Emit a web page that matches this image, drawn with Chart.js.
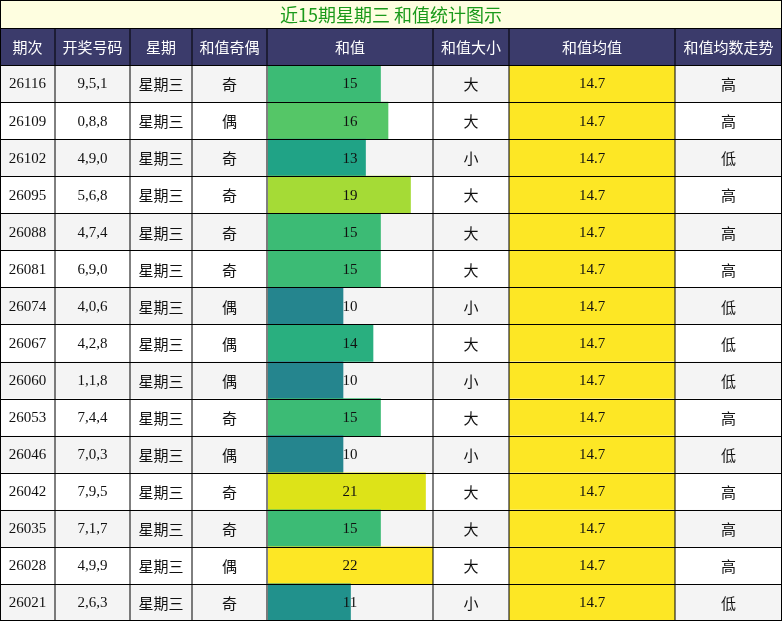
<!DOCTYPE html>
<html><head><meta charset="utf-8">
<script src="https://cdn.jsdelivr.net/npm/chart.js@4"></script>
<style>html,body{margin:0;padding:0;background:#fff}</style>
</head><body>
<canvas id="c" width="782" height="621"></canvas>
<script>
const issues = ['26116','26109','26102','26095','26088','26081','26074','26067','26060','26053','26046','26042','26035','26028','26021'];
const draws = ['9,5,1','0,8,8','4,9,0','5,6,8','4,7,4','6,9,0','4,0,6','4,2,8','1,1,8','7,4,4','7,0,3','7,9,5','7,1,7','4,9,9','2,6,3'];
const parity = ['奇','偶','奇','奇','奇','奇','偶','偶','偶','奇','偶','奇','奇','偶','奇'];
const sums = [15,16,13,19,15,15,10,14,10,15,10,21,15,22,11];
const sizes = ['大','大','小','大','大','大','小','大','小','大','小','大','大','大','小'];
const mean = 14.7;
const trend = ['高','高','低','高','高','高','低','低','低','高','低','高','高','高','低'];
const headers = ['期次','开奖号码','星期','和值奇偶','和值','和值大小','和值均值','和值均数走势'];
const colX = [0,55,130,192,267,433,509,675,782];

const viridis = {10:'#25858e',11:'#21918c',13:'#20a386',14:'#29af7f',15:'#3cbb75',16:'#55c667',19:'#a5db36',21:'#dde318',22:'#fde725'};
const CJK = '"Noto Sans CJK SC", sans-serif';
const SERIF = '"Liberation Serif", serif';

const tablePlugin = {
  id: 'table',
  beforeDatasetsDraw(chart) {
    const ctx = chart.ctx;
    const y = chart.scales.y;
    ctx.save();
    ctx.fillStyle = '#fefee0';
    ctx.fillRect(0, 0, 782, 28);
    ctx.fillStyle = '#3b3b6b';
    ctx.fillRect(0, 28, 782, 37);
    issues.forEach((_, i) => {
      const top = y.getPixelForValue(i) - 18.5;
      ctx.fillStyle = i % 2 === 0 ? '#f4f4f4' : '#ffffff';
      ctx.fillRect(0, top, 782, 37.07);
      ctx.fillStyle = '#fde725';
      ctx.fillRect(colX[6], top, colX[7] - colX[6], 37.07);
    });
    ctx.restore();
  },
  afterDatasetsDraw(chart) {
    const ctx = chart.ctx;
    const y = chart.scales.y;
    ctx.save();
    ctx.textAlign = 'center';
    ctx.textBaseline = 'middle';
    ctx.fillStyle = '#1a9a1a';
    ctx.font = '18px ' + CJK;
    ctx.fillText('近15期星期三 和值统计图示', 391, 15);
    ctx.fillStyle = '#ffffff';
    ctx.font = '15px ' + CJK;
    headers.forEach((h, j) => ctx.fillText(h, (colX[j] + colX[j + 1]) / 2, 47));
    issues.forEach((iss, i) => {
      const cy = y.getPixelForValue(i);
      const cells = [iss, draws[i], '星期三', parity[i], String(sums[i]), sizes[i], mean.toFixed(1), trend[i]];
      cells.forEach((t, j) => {
        ctx.fillStyle = '#111';
        ctx.font = /^[\d.,]+$/.test(t) ? '15px ' + SERIF : '15px ' + CJK;
        ctx.fillText(t, (colX[j] + colX[j + 1]) / 2, cy + 1);
      });
    });
    ctx.strokeStyle = '#000';
    ctx.lineWidth = 1;
    ctx.beginPath();
    ctx.moveTo(0, 28.5); ctx.lineTo(782, 28.5);
    for (let i = 0; i <= issues.length; i++) {
      const yy = Math.round(65 + i * 37.07) + 0.5;
      ctx.moveTo(0, yy); ctx.lineTo(782, yy);
    }
    colX.forEach(x => {
      const xx = Math.min(Math.max(x, 0.5), 781.5);
      ctx.moveTo(xx, 28); ctx.lineTo(xx, 621);
    });
    ctx.strokeRect(0.5, 0.5, 781, 620);
    ctx.stroke();
    ctx.restore();
  }
};

new Chart(document.getElementById('c'), {
  type: 'bar',
  data: {
    labels: issues,
    datasets: [{
      data: sums,
      backgroundColor: sums.map(v => viridis[v]),
      categoryPercentage: 1,
      barPercentage: 1
    }]
  },
  options: {
    indexAxis: 'y',
    responsive: false,
    animation: false,
    devicePixelRatio: 1,
    layout: { padding: { left: 268, right: 349, top: 65, bottom: 0 } },
    plugins: { legend: { display: false }, tooltip: { enabled: false } },
    scales: {
      x: { display: false, min: 0, max: 22 },
      y: { display: false }
    }
  },
  plugins: [tablePlugin]
});
</script>
</body></html>
